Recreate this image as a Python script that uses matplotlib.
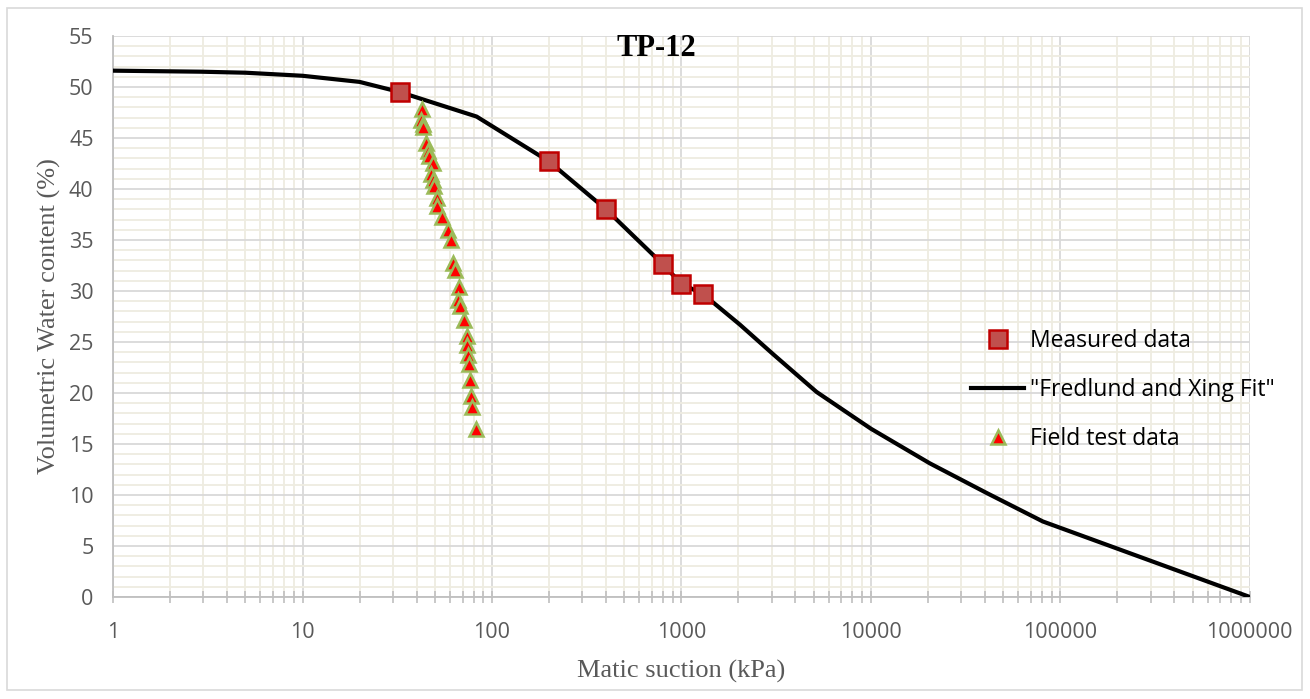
import matplotlib
matplotlib.use("Agg")
import matplotlib.pyplot as plt
import matplotlib.ticker as mticker
from matplotlib.patches import Rectangle

# Fredlund & Xing fitted curve (suction kPa, volumetric water content %)
fit_suction = [1, 2.9, 5, 10, 20, 32.7, 83, 200, 400, 800, 1000, 1300,
               2036, 3050, 5170, 10000, 20480, 40800, 80900, 1000000]
fit_theta = [51.6, 51.5, 51.4, 51.1, 50.5, 49.5, 47.1, 42.7, 38.0, 32.6, 30.7, 29.7,
             26.7, 23.8, 20.1, 16.5, 13.1, 10.2, 7.4, 0.0]

# lab measurements
meas_suction = [32.7, 200, 400, 800, 1000, 1300]
meas_theta = [49.5, 42.7, 38.0, 32.6, 30.7, 29.7]

# field test readings
field_suction = [42.6, 42.0, 43.1, 43.0, 44.9, 45.8, 46.7, 48.6, 47.6, 49.0, 49.6, 51.1,
                 51.4, 54.3, 58.4, 60.5, 62.0, 63.8, 67.0, 66.2, 67.8, 71.4, 73.5, 73.5,
                 74.4, 75.6, 76.5, 77.2, 78.7, 82.3]
field_theta = [47.8, 46.8, 46.4, 46.1, 44.5, 43.7, 43.2, 42.5, 41.5, 40.9, 40.3, 39.1,
               38.3, 37.3, 36.0, 35.0, 32.7, 32.1, 30.4, 29.1, 28.5, 27.2, 25.6, 24.7,
               23.7, 22.8, 21.3, 19.7, 18.6, 16.5]

x_ticks = [1, 10, 100, 1000, 10000, 100000, 1000000]

fig = plt.figure(figsize=(13.1, 6.99), dpi=100)
ax = fig.add_axes([0.0863, 0.146, 0.8677, 0.8025])

ax.set_xscale("log")
ax.set_xlim(1, 1e6)
ax.set_ylim(0, 55)
ax.set_yticks(range(0, 56, 5))
ax.yaxis.set_minor_locator(mticker.MultipleLocator(1))
ax.xaxis.set_major_locator(mticker.FixedLocator(x_ticks))
ax.xaxis.set_minor_locator(mticker.LogLocator(base=10, subs=range(2, 10), numticks=100))
ax.set_xticklabels([str(t) for t in x_ticks])
ax.xaxis.set_minor_formatter(mticker.NullFormatter())

ax.grid(which="minor", color="#EEECE1", lw=1.3, zorder=0)
ax.grid(which="major", color="#D9D9D9", lw=1.3, zorder=0)
ax.set_axisbelow(True)

for s in ["top", "right"]:
    ax.spines[s].set_visible(False)
for s in ["left", "bottom"]:
    ax.spines[s].set_color("#BFBFBF")
    ax.spines[s].set_linewidth(1.3)

ax.tick_params(axis="y", which="both", length=0, pad=14, labelsize=15.5, labelcolor="#595959",
               labelfontfamily="Open Sans")
ax.tick_params(axis="x", which="both", direction="inout", length=8, color="#BFBFBF", width=1.2,
               labelsize=15.5, labelcolor="#595959", pad=14, labelfontfamily="Open Sans")

ax.plot(fit_suction, fit_theta, color="black", lw=3, zorder=3, label='"Fredlund and Xing Fit"')
ax.plot(meas_suction, meas_theta, ls="none", marker="s", ms=13, mfc="#C0504D", mec="#C00000",
        mew=1.8, zorder=4, label="Measured data")
ax.plot(field_suction, field_theta, ls="none", marker="^", ms=10.5, mfc="#FF0000", mec="#9BBB59",
        mew=1.8, zorder=4, label="Field test data")

handles, labels = ax.get_legend_handles_labels()
order = [1, 0, 2]
ax.legend([handles[i] for i in order], [labels[i] for i in order], loc="center left",
          bbox_to_anchor=(0.745, 0.369), frameon=False, borderpad=0,
          prop={"family": "Open Sans", "size": 16.5},
          labelspacing=1.1, handlelength=2.3, handletextpad=0.25)

fig.text(0.501, 0.931, "TP-12", ha="center", va="center", fontsize=22, fontweight="bold",
         family="Liberation Serif", color="black")

ax.set_xlabel("Matic suction (kPa)", fontsize=19, family="Liberation Serif", color="#595959",
              labelpad=12)
ax.set_ylabel("Volumetric Water content (%)", fontsize=19, family="Liberation Serif",
              color="#595959", labelpad=6)

fig.patches.append(Rectangle((0.005, 0.013), 0.989, 0.975, transform=fig.transFigure,
                             fill=False, edgecolor="#D9D9D9", lw=1.2))

fig.savefig("out.png", dpi=100)
